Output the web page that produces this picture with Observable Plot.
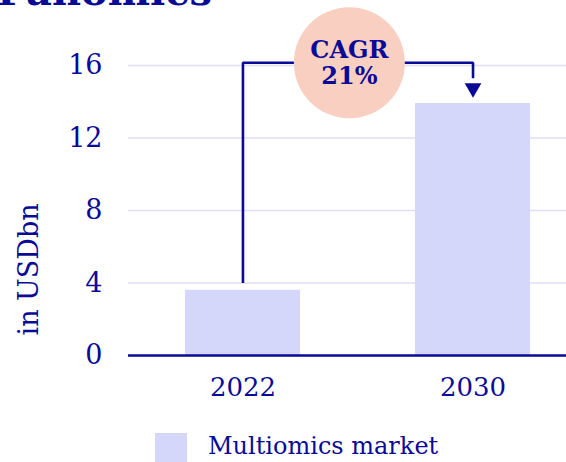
<!DOCTYPE html>
<html>
<head>
<meta charset="utf-8">
<script src="https://cdn.jsdelivr.net/npm/d3@7"></script>
<script src="https://cdn.jsdelivr.net/npm/@observablehq/plot@0.6"></script>
<style>
  html, body { margin: 0; padding: 0; background: #fff; overflow: hidden; }
  body { width: 566px; height: 462px; position: relative; font-family: "DejaVu Serif", serif; color: #0a0a96; }
  #title { position: absolute; left: -3px; top: -33px; font-size: 40px; font-weight: bold; white-space: nowrap; }
  #chart { position: absolute; left: 0; top: 0; }
  #legend { position: absolute; left: 155px; top: 433px; display: flex; align-items: flex-start; }
  #legend .sw { width: 32px; height: 32px; background: #d4d6fa; }
  #legend .lab { margin-left: 21px; font-size: 24px; line-height: 24px; margin-top: 1px; }
</style>
</head>
<body>
<div id="title">Panomics</div>
<div id="chart"></div>
<div id="legend"><div class="sw"></div><div class="lab">Multiomics market</div></div>
<script>
// Data
const years = [2022, 2030];
const marketValues = [3.6, 13.9];
const yTicks = [0, 4, 8, 12, 16];
const seriesName = "Multiomics market";
const yLabel = "in USDbn";
// CAGR annotation (data space)
const bracketYears = [2022, 2022, 2030, 2030];
const bracketValues = [4.0, 16.15, 16.15, 15.3];
const arrowYear = [2030];
const arrowValue = [14.75];
const cagrYear = [2025.7];
const cagrValue = [16.15];
const cagrText = ["CAGR\n21%"];

const blue = "#0a0a96";
const barFill = "#d4d6fa";
const gridColor = "#dfdff7";
const circleFill = "#f8cfc1";

const bars = years.map((y, i) => ({year: y, value: marketValues[i]}));
const bracket = bracketYears.map((y, i) => ({year: y, value: bracketValues[i]}));
const arrow = arrowYear.map((y, i) => ({year: y, value: arrowValue[i]}));
const cagr = cagrYear.map((y, i) => ({year: y, value: cagrValue[i], text: cagrText[i]}));

const downTriangle = {
  draw(context, size) {
    const s = Math.sqrt(size * 4 / Math.sqrt(3));
    const h = s * Math.sqrt(3) / 2;
    context.moveTo(-s / 2, -h / 3);
    context.lineTo(s / 2, -h / 3);
    context.lineTo(0, 2 * h / 3);
    context.closePath();
  }
};

const chart = Plot.plot({
  width: 566,
  height: 420,
  marginLeft: 128,
  marginRight: 0,
  marginTop: 65,
  marginBottom: 65,
  style: {fontFamily: "DejaVu Serif, serif", color: blue, background: "transparent"},
  x: {type: "linear", domain: [2018.02, 2033.25]},
  y: {domain: [0, 16]},
  marks: [
    Plot.gridY(yTicks.filter(d => d > 0), {stroke: gridColor, strokeOpacity: 1, strokeWidth: 1.5}),
    Plot.rectY(bars, {x1: d => d.year - 2, x2: d => d.year + 2, y: "value", fill: barFill}),
    Plot.ruleY([0], {stroke: blue, strokeWidth: 2.5}),
    Plot.axisY(yTicks, {tickSize: 0, tickPadding: 26, fontSize: 27, fill: blue, label: null}),
    Plot.axisX(years, {tickSize: 0, tickPadding: 22, fontSize: 26, fill: blue, label: null, tickFormat: d => String(d)}),
    Plot.text([yLabel], {frameAnchor: "bottom-left", rotate: -90, textAnchor: "start", dx: -91, dy: -20, fontSize: 27, fill: blue}),
    Plot.line(bracket, {x: "year", y: "value", stroke: blue, strokeWidth: 2.6, strokeLinejoin: "miter", strokeLinecap: "butt"}),
    Plot.dot(arrow, {x: "year", y: "value", symbol: downTriangle, r: 6.2, fill: blue, stroke: "none"}),
    Plot.dot(cagr, {x: "year", y: "value", r: 55.5, fill: circleFill, stroke: "none"}),
    Plot.text(cagr, {x: "year", y: "value", text: "text", fontSize: 24, fontWeight: "bold", fill: blue, lineHeight: 1.1})
  ]
});
document.getElementById("chart").appendChild(chart);
</script>
</body>
</html>
